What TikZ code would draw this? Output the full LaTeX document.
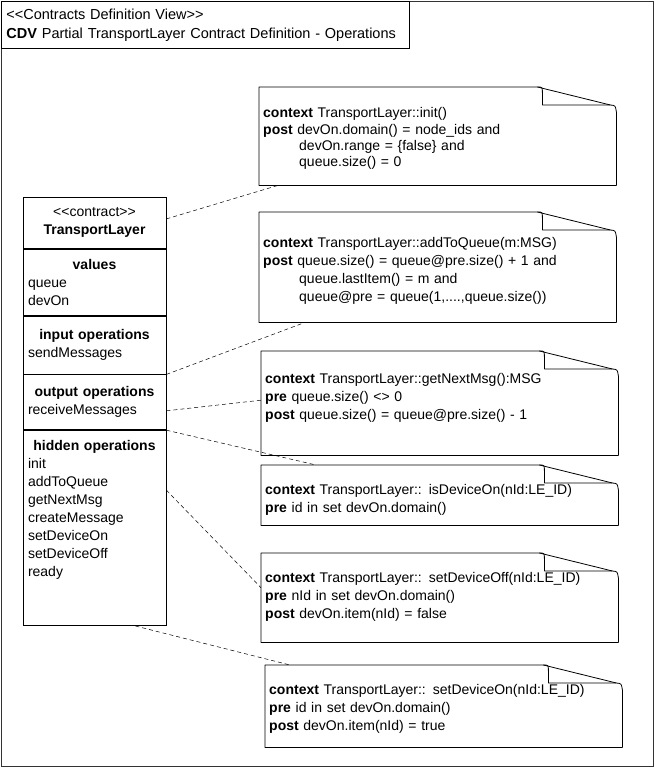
\documentclass[tikz,border=0pt]{standalone}
\usepackage{fontspec}
\setmainfont{Liberation Sans}
\usetikzlibrary{positioning}
\newcommand{\stereo}[1]{<\kern0pt<#1>\kern0pt>}
\newcommand{\ind}{\hspace*{36pt}}
\newcommand{\ctitle}[1]{\makebox[133pt]{\textbf{#1}}}
\newcommand{\topstrut}{\rule{0pt}{26pt}}
\newcommand{\botstrut}[1]{\rule[-#1pt]{0pt}{#1pt}}
\tikzset{
  part/.style={draw, line width=0.8pt, minimum width=143pt, text width=133pt, inner xsep=5pt, inner ysep=0pt, align=left, anchor=north},
  notebox/.style={minimum width=357pt, text width=349pt, inner xsep=4pt, inner ysep=0pt, align=left, anchor=north west},
  fold/.style={line width=0.8pt, line join=round},
  link/.style={line width=0.5pt, dash pattern=on 4pt off 3pt}
}

\begin{document}
\begin{tikzpicture}[x=1pt, y=-1pt, every node/.style={font=\fontsize{14}{18}\selectfont}]
  \useasboundingbox (0,0) rectangle (655,768);
  \draw[line width=0.8pt, black!80] (1,1) rectangle (653,766);
  \node[draw, line width=0.8pt, anchor=north west, minimum width=408pt, minimum height=47pt, text width=398pt, inner xsep=5pt, inner ysep=0pt, align=left, font=\fontsize{14.5}{19}\selectfont] (title) at (1,1) {\stereo{Contracts Definition View}\\\textbf{CDV} Partial TransportLayer Contract Definition - Operations};

  \node[part, align=center, minimum height=51pt] (head) at (94.5,197) {\stereo{contract}\\\textbf{TransportLayer}};
  \node[part, minimum height=66pt, below=0pt of head] (vals) {\ctitle{values}\\queue\\devOn};
  \node[part, minimum height=58pt, below=0pt of vals] (inops) {\ctitle{input operations}\\sendMessages};
  \node[part, minimum height=55pt, below=0pt of inops] (outops) {\ctitle{output operations}\\receiveMessages};
  \node[part, minimum height=195pt, below=0pt of outops] (hidops) {\ctitle{hidden operations}\\init\\addToQueue\\getNextMsg\\createMessage\\setDeviceOn\\setDeviceOff\\ready\\[22pt]\mbox{}};

  \node[notebox, minimum height=98pt, font=\fontsize{14}{16.3}\selectfont] (ninit) at (259,87) {\topstrut\textbf{context} TransportLayer::init()\\\textbf{post} devOn.domain() = node\_ids and\\\ind devOn.range = \{false\} and\\\ind queue.size() = 0\botstrut{14}};
  \node[notebox, minimum height=110pt] (nadd) at (259,212) {\topstrut\textbf{context} TransportLayer::addToQueue(m:MSG)\\\textbf{post} queue.size() = queue@pre.size() + 1 and\\\ind queue.lastItem() = m and\\\ind queue@pre = queue(1,....,queue.size())\botstrut{11}};
  \node[notebox, minimum height=104pt] (nnext) at (261,351) {\topstrut\textbf{context} TransportLayer::getNextMsg():MSG\\\textbf{pre} queue.size() <> 0\\\textbf{post} queue.size() = queue@pre.size() - 1\botstrut{29}};
  \node[notebox, minimum height=60pt] (nison) at (261,465) {\topstrut\textbf{context} TransportLayer:: isDeviceOn(nId:LE\_ID)\\\textbf{pre} id in set devOn.domain()\botstrut{9}};
  \node[notebox, minimum height=89pt] (nsetoff) at (261,553) {\topstrut\textbf{context} TransportLayer:: setDeviceOff(nId:LE\_ID)\\\textbf{pre} nId in set devOn.domain()\\\textbf{post} devOn.item(nId) = false\botstrut{20}};
  \node[notebox, minimum height=82pt] (nseton) at (265,665) {\topstrut\textbf{context} TransportLayer:: setDeviceOn(nId:LE\_ID)\\\textbf{pre} id in set devOn.domain()\\\textbf{post} devOn.item(nId) = true\botstrut{13}};

  \foreach \n in {ninit,nadd,nnext,nison,nsetoff,nseton} {
    \draw[fold] (\n.north west) -- ([xshift=-79pt]\n.north east) -- ([xshift=-6pt,yshift=-18pt]\n.north east) .. controls ([xshift=-1pt,yshift=-18.5pt]\n.north east) .. ([yshift=-25pt]\n.north east) -- (\n.south east) -- (\n.south west) -- cycle;
    \draw[fold] ([xshift=-79pt]\n.north east) .. controls ([xshift=-74pt]\n.north east) .. ([xshift=-74pt,yshift=-6pt]\n.north east) -- ([xshift=-74pt,yshift=-18pt]\n.north east) -- ([xshift=-6pt,yshift=-18pt]\n.north east);
  }

  \draw[link] ([yshift=4pt]head.east) -- ([xshift=19pt]ninit.south west);
  \draw[link] (outops.north east) -- ([xshift=46pt]nadd.south west);
  \draw[link] ([yshift=-8.5pt]outops.east) -- ([yshift=3pt]nnext.west);
  \draw[link] (hidops.north east) -- ([xshift=55pt]nison.north west);
  \draw[link] ([yshift=-60pt]hidops.north east) -- ([yshift=10pt]nsetoff.west);
  \draw[link] ([xshift=-31pt]hidops.south east) -- ([xshift=25pt]nseton.north west);
\end{tikzpicture}
\end{document}
